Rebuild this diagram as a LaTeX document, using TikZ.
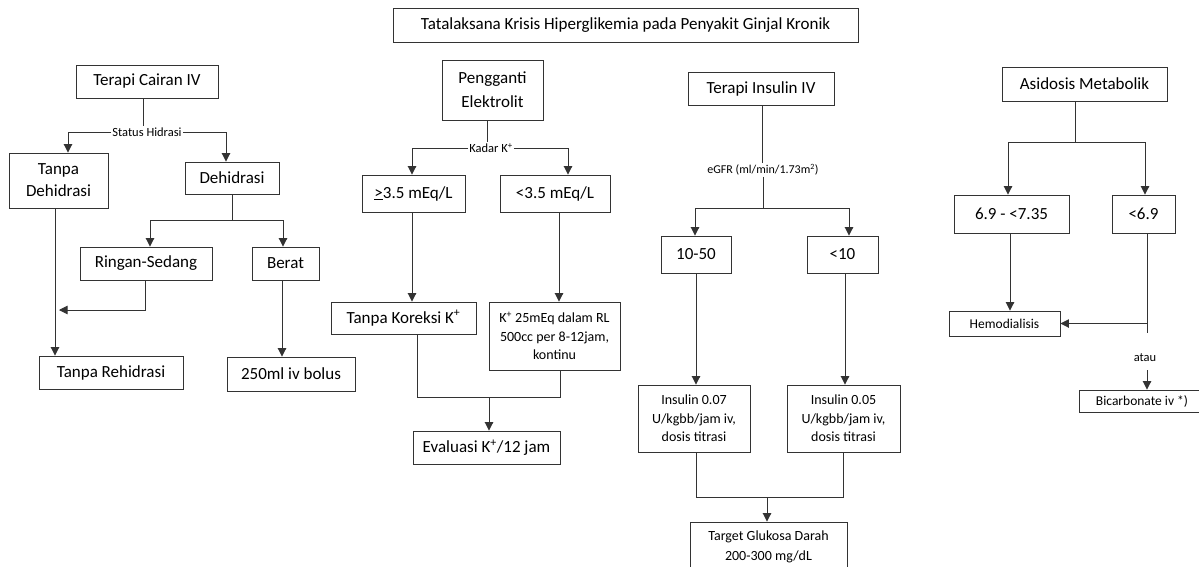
\documentclass[tikz,border=0pt]{standalone}
\usepackage{fontspec}
\setmainfont{Carlito}
\usetikzlibrary{arrows.meta,calc}
\begin{document}
\begin{tikzpicture}[x=1pt,y=-1pt,
  box/.style={draw=black!80, line width=0.9pt, text=black, inner sep=0pt, align=center, font=\fontsize{17}{22}\selectfont},
  sbox/.style={box, font=\fontsize{14}{18.5}\selectfont},
  lbl/.style={inner sep=1pt, text=black, font=\fontsize{12.5}{14}\selectfont},
  ln/.style={draw=black!80, line width=0.9pt},
  arr/.style={ln, -{Triangle[width=8.5pt,length=8.5pt]}}]
\useasboundingbox (0,0) rectangle (1199,566);
\fill[white] (0,0) rectangle (1199,566);
\clip (0,0) rectangle (1199,566);

% title
\node[box,minimum width=465pt,minimum height=34pt] (title) at (625.5,25) {Tatalaksana Krisis Hiperglikemia pada Penyakit Ginjal Kronik};

% column 1
\node[box,minimum width=142pt,minimum height=33pt] (tci) at (147,81.5) {Terapi Cairan IV};
\node[lbl] (sh) at (147,132) {Status Hidrasi};
\node[box,minimum width=99pt,minimum height=55pt] (td) at (58.5,180.5) {Tanpa\\Dehidrasi};
\node[box,minimum width=94pt,minimum height=32pt] (dh) at (232,178) {Dehidrasi};
\node[box,minimum width=132pt,minimum height=33pt] (rs) at (146,263.5) {Ringan-Sedang};
\node[box,minimum width=67pt,minimum height=33pt] (br) at (285.5,263.5) {Berat};
\node[box,minimum width=144pt,minimum height=33pt] (tr) at (111,372.5) {Tanpa Rehidrasi};
\node[box,minimum width=128pt,minimum height=34pt] (bol) at (291,374) {250ml iv bolus};

\draw[ln] ($(tci.south)+(-4,0)$) coordinate (a1) -- (a1 |- sh.north);
\draw[arr] (sh.west) -| ($(td.north)+(9.5,0)$);
\draw[arr] (sh.east) -| ($(dh.north)+(-6,0)$);
\draw[ln] (dh.south) -- ++(0,26) coordinate (j1);
\draw[arr] (j1) -| ($(rs.north)+(4,0)$);
\draw[arr] (j1) -| ($(br.north)+(-2.5,0)$);
\draw[arr] ($(td.south)+(-3.5,0)$) coordinate (a2) -- (a2 |- tr.north);
\coordinate (m1) at (59,310);
\draw[arr] ($(rs.south)+(-1,0)$) |- (m1);
\draw[arr] ($(br.south)+(-3.5,0)$) coordinate (a3) -- (a3 |- bol.north);

% column 2
\node[box,minimum width=101pt,minimum height=60pt,font=\fontsize{17}{24}\selectfont] (pe) at (492.5,90) {Pengganti\\Elektrolit};
\node[lbl] (kk) at (491,148) {Kadar K\textsuperscript{+}};
\node[box,minimum width=103pt,minimum height=37pt] (ge) at (413.5,193.5) {\underline{>}3.5 mEq/L};
\node[box,minimum width=110pt,minimum height=37pt] (lt) at (555,193.5) {<3.5 mEq/L};
\node[box,minimum width=145pt,minimum height=32pt] (tk) at (403.5,318) {Tanpa Koreksi K\textsuperscript{+}};
\node[sbox,minimum width=131pt,minimum height=68pt] (kp) at (554.5,336) {K\textsuperscript{+} 25mEq dalam RL\\500cc per 8-12jam,\\kontinu};
\node[box,minimum width=147pt,minimum height=33pt] (ev) at (486.5,447.5) {Evaluasi K\textsuperscript{+}/12 jam};

\draw[ln] ($(pe.south)+(-5,0)$) coordinate (b1) -- (b1 |- kk.north);
\draw[arr] (kk.west) -| ($(ge.north)+(-1.5,0)$);
\draw[arr] (kk.east) -| ($(lt.north)+(13,0)$);
\draw[arr] ($(ge.south)+(-1.5,0)$) coordinate (b2) -- (b2 |- tk.north);
\draw[arr] ($(lt.south)+(4,0)$) coordinate (b3) -- (b3 |- kp.north);
\coordinate (j2) at (489,397);
\draw[ln] ($(tk.south)+(13.5,0)$) |- (j2) -| ($(kp.south)+(5.5,0)$);
\draw[arr] (j2) -- (j2 |- ev.north);

% column 3
\node[box,minimum width=146pt,minimum height=33pt] (ti) at (761,88.5) {Terapi Insulin IV};
\node[lbl,font=\fontsize{12}{14}\selectfont] (eg) at (763,170) {eGFR (ml/min/1.73m\textsuperscript{2})};
\node[box,minimum width=70pt,minimum height=37pt] (t1) at (696,254.5) {10-50};
\node[box,minimum width=71pt,minimum height=37pt] (t2) at (842.5,254.5) {<10};
\node[sbox,minimum width=112pt,minimum height=67pt] (i1) at (694,418.5) {Insulin 0.07\\U/kgbb/jam iv,\\dosis titrasi};
\node[sbox,minimum width=113pt,minimum height=67pt] (i2) at (843.5,418.5) {Insulin 0.05\\U/kgbb/jam iv,\\dosis titrasi};
\node[sbox,minimum width=157pt,minimum height=50pt,font=\fontsize{14}{20}\selectfont] (tg) at (768.5,547) {Target Glukosa Darah\\200-300 mg/dL};

\draw[ln] ($(ti.south)+(1,0)$) coordinate (c1) -- (c1 |- eg.north);
\coordinate (j3) at (763,208);
\draw[ln] (eg.south) -- (j3);
\draw[arr] (j3) -| ($(t1.north)+(-1,0)$);
\draw[arr] (j3) -| ($(t2.north)+(6.5,0)$);
\draw[arr] (t1.south) -- (t1.south |- i1.north);
\draw[arr] ($(t2.south)+(2.5,0)$) coordinate (c2) -- (c2 |- i2.north);
\coordinate (j4) at (767,497);
\draw[ln] ($(i1.south)+(2,0)$) |- (j4) -| (i2.south);
\draw[arr] (j4) -- (j4 |- tg.north);

% column 4
\node[box,minimum width=165pt,minimum height=34pt] (am) at (1084.5,84) {Asidosis Metabolik};
\node[box,minimum width=115pt,minimum height=38pt] (p1) at (1011.5,214) {6.9 - <7.35};
\node[box,minimum width=63pt,minimum height=38pt] (p2) at (1143.5,214) {<6.9};
\node[sbox,minimum width=111pt,minimum height=25pt,font=\fontsize{13.5}{16}\selectfont] (hd) at (1004.5,323.5) {Hemodialisis};
\node[lbl] (at) at (1145,358) {atau};
\node[sbox,minimum width=126pt,minimum height=22pt,font=\fontsize{13.5}{16}\selectfont] (bc) at (1142,401) {Bicarbonate iv *)};

\draw[ln] ($(am.south)+(-9.5,0)$) -- ++(0,41) coordinate (j5);
\draw[arr] (j5) -| ($(p1.north)+(-3.5,0)$);
\draw[arr] (j5) -| ($(p2.north)+(1.5,0)$);
\draw[arr] ($(p1.south)+(-1.5,0)$) coordinate (d2) -- (d2 |- hd.north);
\coordinate (e1) at (1147,333);
\draw[ln] ($(p2.south)+(3.5,0)$) coordinate (d3) -- (e1);
\draw[arr] (d3 |- hd.east) -- (hd.east);
\coordinate (e2) at (1147,370);
\draw[arr] (e2) -- (e2 |- bc.north);
\end{tikzpicture}
\end{document}
